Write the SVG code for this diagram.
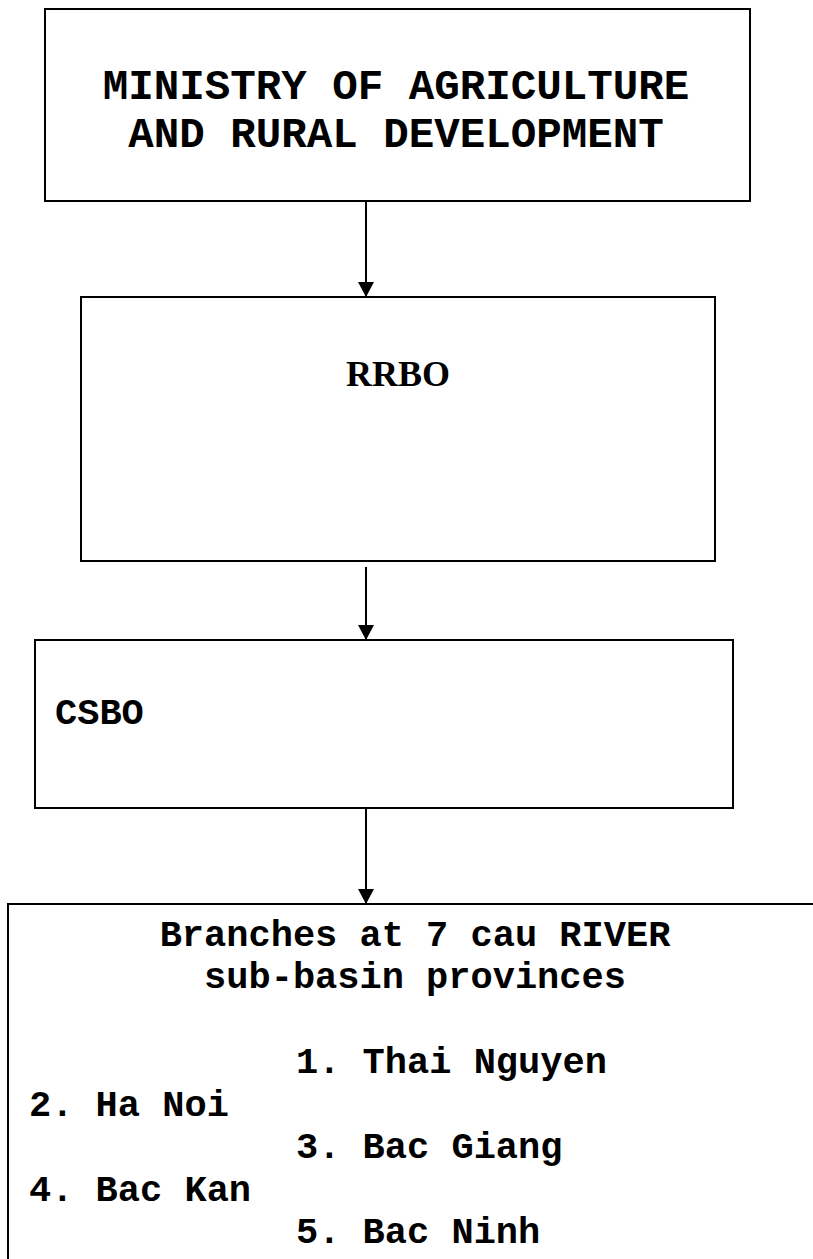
<svg xmlns="http://www.w3.org/2000/svg" width="813" height="1259" viewBox="0 0 813 1259">
  <style>
    .box { fill: #ffffff; stroke: #000000; stroke-width: 2; }
    .mono { font-family: "Liberation Mono", "Courier New", monospace; font-weight: bold; fill: #000000; }
    .serif { font-family: "Liberation Serif", "Times New Roman", serif; font-weight: bold; fill: #000000; }
    .conn { stroke: #000000; stroke-width: 2; fill: none; marker-end: url(#arrow); }
  </style>
  <defs>
    <marker id="arrow" markerUnits="userSpaceOnUse" markerWidth="16" markerHeight="16" refX="15" refY="8" orient="auto" viewBox="0 0 16 16">
      <path d="M0,0 L15,8 L0,16 Z" fill="#000000"/>
    </marker>
  </defs>
  <rect x="0" y="0" width="813" height="1259" fill="#ffffff"/>

  <g id="ministry">
    <rect class="box" x="45" y="9" width="705" height="192"/>
    <text class="mono" font-size="42.5" text-anchor="middle" x="396" y="99">MINISTRY OF AGRICULTURE</text>
    <text class="mono" font-size="42.5" text-anchor="middle" x="396" y="147">AND RURAL DEVELOPMENT</text>
  </g>

  <g id="rrbo">
    <rect class="box" x="81" y="297" width="634" height="264"/>
    <text class="serif" font-size="36" text-anchor="middle" x="398" y="386">RRBO</text>
  </g>

  <g id="csbo">
    <rect class="box" x="35" y="640" width="698" height="168"/>
    <text class="mono" font-size="37" x="55" y="724">CSBO</text>
  </g>

  <g id="branches">
    <rect class="box" x="8" y="904" width="830" height="400"/>
    <text class="mono" font-size="37" text-anchor="middle" x="415" y="946">Branches at 7 cau RIVER</text>
    <text class="mono" font-size="37" text-anchor="middle" x="415" y="988">sub-basin provinces</text>
    <text class="mono" font-size="37" x="296" y="1073">1. Thai Nguyen</text>
    <text class="mono" font-size="37" x="29" y="1116">2. Ha Noi</text>
    <text class="mono" font-size="37" x="296" y="1158">3. Bac Giang</text>
    <text class="mono" font-size="37" x="29" y="1201">4. Bac Kan</text>
    <text class="mono" font-size="37" x="296" y="1243">5. Bac Ninh</text>
  </g>

  <g id="connectors">
    <line class="conn" x1="366" y1="201" x2="366" y2="297"/>
    <line class="conn" x1="366" y1="567" x2="366" y2="640"/>
    <line class="conn" x1="366" y1="808" x2="366" y2="904"/>
  </g>
</svg>
